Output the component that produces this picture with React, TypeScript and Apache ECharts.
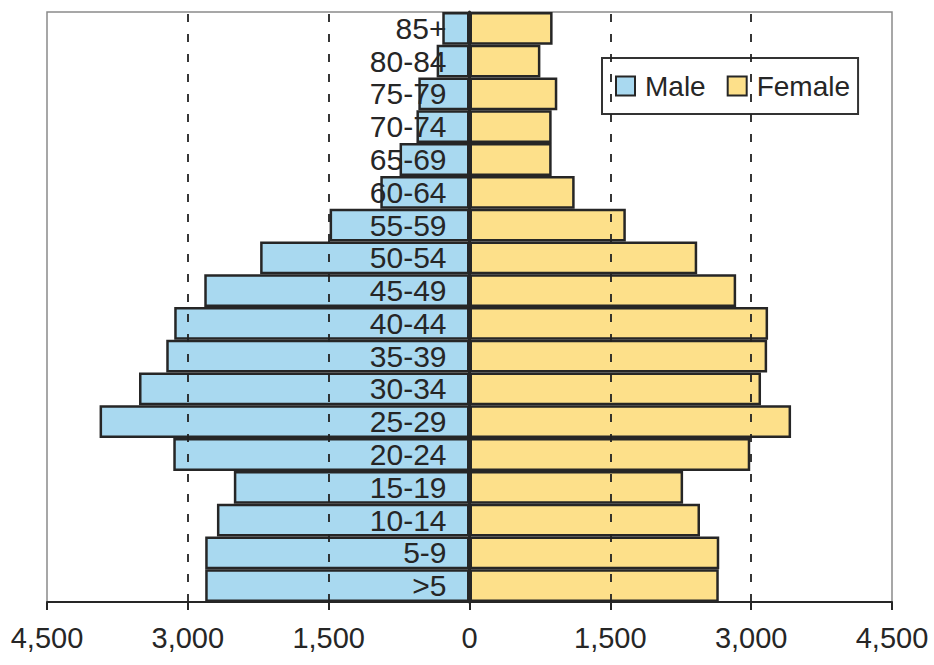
import React, { useEffect, useRef } from "react";
import * as echarts from "echarts";

const ageGroups = [">5", "5-9", "10-14", "15-19", "20-24", "25-29", "30-34", "35-39", "40-44", "45-49", "50-54", "55-59", "60-64", "65-69", "70-74", "75-79", "80-84", "85+"];
const maleValues = [2815, 2815, 2690, 2510, 3155, 3940, 3520, 3230, 3145, 2825, 2230, 1490, 950, 745, 565, 545, 350, 290];
const femaleValues = [2655, 2660, 2455, 2275, 2990, 3425, 3105, 3170, 3180, 2840, 2425, 1665, 1120, 875, 875, 935, 755, 885];
const xTicks = { min: -4500, max: 4500, interval: 1500 };
const dashedGridValues = [-3000, -1500, 1500, 3000];

const FONT = "'Liberation Sans', Arial, sans-serif";
const INK = "#262626";

export default function App() {
  const ref = useRef<HTMLDivElement>(null);
  useEffect(() => {
    document.body.style.margin = "0";
    if (!ref.current) return;
    const chart = echarts.init(ref.current, null, { renderer: "svg" });
    chart.setOption({
      animation: false,
      backgroundColor: "#ffffff",
      grid: {
        left: 47,
        right: 42,
        top: 12,
        bottom: 63,
        containLabel: false,
        outerBoundsMode: "none",
        show: true,
        borderColor: "#8a8a8a",
        borderWidth: 1.5,
        backgroundColor: "transparent",
      },
      legend: {
        left: 602,
        top: 58,
        orient: "horizontal",
        backgroundColor: "#ffffff",
        borderColor: "#333333",
        borderWidth: 2,
        borderRadius: 0,
        padding: [14, 8, 14, 13],
        itemWidth: 19,
        itemHeight: 19,
        itemGap: 21,
        icon: "rect",
        textStyle: {
          fontFamily: FONT,
          fontSize: 28,
          color: INK,
          padding: [0, 0, 0, 5],
        },
        data: ["Male", "Female"],
      },
      xAxis: {
        type: "value",
        min: xTicks.min,
        max: xTicks.max,
        interval: xTicks.interval,
        axisLine: { show: true, lineStyle: { color: INK, width: 2 } },
        axisTick: { show: true, length: 8, lineStyle: { color: INK, width: 2 } },
        axisLabel: {
          fontFamily: FONT,
          fontSize: 29,
          color: INK,
          margin: 21,
          formatter: (v: number) => Math.abs(v).toLocaleString("en-US"),
        },
        splitLine: { show: false },
      },
      yAxis: {
        type: "category",
        data: ageGroups,
        z: 10,
        axisLine: { show: true, onZero: true, lineStyle: { color: INK, width: 3 } },
        axisTick: { show: false },
        axisLabel: { show: false },
        splitLine: { show: false },
      },
      series: [
        {
          name: "grid",
          type: "line",
          z: 1,
          data: [],
          markLine: {
            silent: true,
            symbol: "none",
            label: { show: false },
            lineStyle: { color: "#222222", width: 1.8, type: [8, 12] },
            data: dashedGridValues.map((v) => ({ xAxis: v })),
          },
        },
        {
          name: "Male",
          type: "bar",
          stack: "pop",
          z: 3,
          data: maleValues.map((v) => -v),
          barCategoryGap: "0%",
          itemStyle: { color: "#a9d9f0", borderColor: INK, borderWidth: 2.5 },
        },
        {
          name: "Female",
          type: "bar",
          stack: "pop",
          z: 3,
          data: femaleValues,
          barCategoryGap: "0%",
          itemStyle: { color: "#fde08a", borderColor: INK, borderWidth: 2.5 },
        },
        {
          name: "labels",
          type: "scatter",
          z: 20,
          symbolSize: 0,
          silent: true,
          itemStyle: { opacity: 1 },
          data: ageGroups.map((c) => [0, c]),
          label: {
            show: true,
            position: "left",
            distance: 23,
            opacity: 1,
            fontFamily: FONT,
            fontSize: 30,
            color: INK,
            formatter: (p: any) => p.value[1],
          },
        },
      ],
    });
    return () => chart.dispose();
  }, []);
  return <div ref={ref} style={{ width: 934, height: 665, position: "fixed", left: 0, top: 0 }} />;
}
